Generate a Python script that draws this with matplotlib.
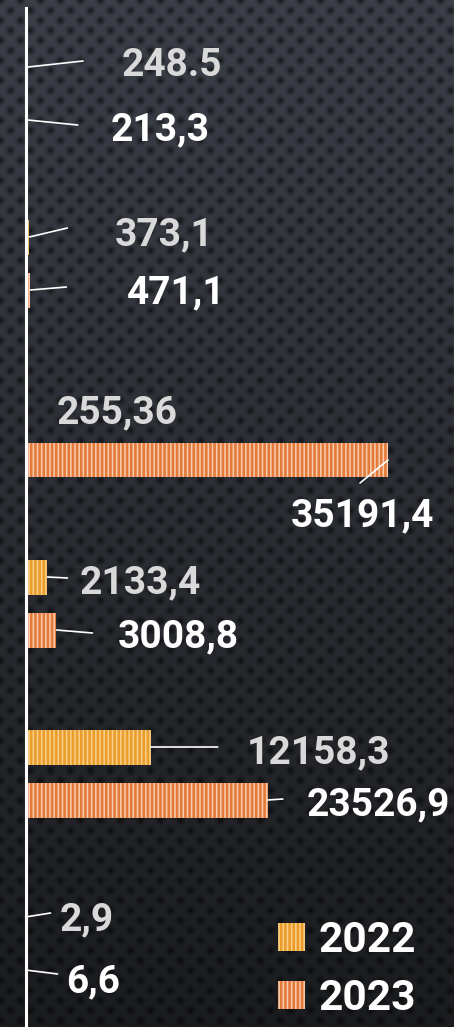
import numpy as np
import matplotlib
matplotlib.use("Agg")
import matplotlib.pyplot as plt
from matplotlib.patches import Patch

# ---- data ----
categories = ["G1", "G2", "G3", "G4", "G5", "G6"]
values_2022 = [248.5, 373.1, 255.36, 2133.4, 12158.3, 2.9]
values_2023 = [213.3, 471.1, 35191.4, 3008.8, 23526.9, 6.6]
labels_2022 = ["248.5", "373,1", "255,36", "2133,4", "12158,3", "2,9"]
labels_2023 = ["213,3", "471,1", "35191,4", "3008,8", "23526,9", "6,6"]
series_names = ["2022", "2023"]

# ---- layout (pixel offsets from bar end; image coords, y down) ----
lead_2022 = [(55, -6), (38, -9), None, (20, 1), (67, 0), (25, -4)]
lead_2023 = [(50, 5), (36, -3), (-28, 23), (36, 3), (15, -1), (32, 4)]
text_2022 = [(94, 9), (85, 8), (28, 16), (32, 16), (96, 16), (34, 13)]
text_2023 = [(83, 20), (97, 13), (-97, 66), (61, 17), (39, 15), (41, 22)]

plt.rcParams['font.family'] = ['Roboto', 'DejaVu Sans']
plt.rcParams['hatch.linewidth'] = 1.9

W, H = 454, 1027
fig = plt.figure(figsize=(W / 100, H / 100), dpi=100)

# background texture
yy, xx = np.mgrid[0:H, 0:W].astype(float)
t = yy / H
base = np.stack([0.235 - 0.13 * t, 0.25 - 0.14 * t, 0.285 - 0.165 * t], axis=-1)
per = 20.0
r1 = ((xx % per) - per / 2) ** 2 + (((yy) % per) - per / 2) ** 2
r2 = (((xx + per / 2) % per) - per / 2) ** 2 + (((yy + per / 2) % per) - per / 2) ** 2
dots = np.exp(-np.minimum(r1, r2) / 14.0)
img = base * (1 - 0.55 * dots[..., None])
bg = fig.add_axes([0, 0, 1, 1], zorder=0)
bg.imshow(np.clip(img, 0, 1), aspect='auto', interpolation='bilinear')
bg.axis('off')

ax = fig.add_axes([0, 0, 1, 1], zorder=1)
ax.patch.set_alpha(0)

px0 = 25.5
scale = (388 - px0) / 35191.4
ax.set_xlim(-px0 / scale, (W - px0) / scale)
y_first, gap, off = 67.0, 170.0, 53.0
ax.set_ylim((H - y_first) / gap, -y_first / gap)

ypos = np.arange(len(categories))
ypos23 = ypos + off / gap
bh = 35 / gap

c22_face, c22_hatch = '#f8d08a', '#eb9d2c'
c23_face, c23_hatch = '#f6cdb0', '#e47a3a'

ax.barh(ypos, values_2022, height=bh, color=c22_face, edgecolor=c22_hatch,
        linewidth=0, hatch='||||', zorder=2)
ax.barh(ypos23, values_2023, height=bh, color=c23_face, edgecolor=c23_hatch,
        linewidth=0, hatch='||||', zorder=2)

for sp in ['top', 'right', 'bottom']:
    ax.spines[sp].set_visible(False)
ax.spines['left'].set_position(('data', 0))
ax.spines['left'].set_color('white')
ax.spines['left'].set_linewidth(2.2)
ax.spines['left'].set_bounds((H - y_first) / gap, (8 - y_first) / gap)
ax.spines['left'].set_zorder(3)
ax.set_xticks([])
ax.set_yticks([])

def put(vals, ys, labels, leads, texts, color):
    for v, y, lab, ld, tx in zip(vals, ys, labels, leads, texts):
        if ld is not None:
            ax.annotate('', xy=(v, y), xytext=(ld[0], -ld[1]), textcoords='offset pixels',
                        arrowprops=dict(arrowstyle='-', color='white', lw=1.2,
                                        shrinkA=0, shrinkB=0), zorder=4)
        ax.annotate(lab, xy=(v, y), xytext=(tx[0], -tx[1]), textcoords='offset pixels',
                    ha='left', va='baseline', fontsize=28, fontweight='bold',
                    color=color, zorder=5)

put(values_2022, ypos, labels_2022, lead_2022, text_2022, '#d9d9d9')
put(values_2023, ypos23, labels_2023, lead_2023, text_2023, '#ffffff')

handles = [Patch(facecolor=c22_face, edgecolor=c22_hatch, hatch='||||', linewidth=0),
           Patch(facecolor=c23_face, edgecolor=c23_hatch, hatch='||||', linewidth=0)]
leg = ax.legend(handles, series_names, loc='upper left',
                bbox_to_anchor=(278 / W, 1 - 920 / H), frameon=False,
                prop={'family': ['Roboto', 'DejaVu Sans'], 'weight': 'bold', 'size': 30.5},
                handlelength=0.63, handleheight=0.63, handletextpad=0.33,
                labelspacing=0.4, borderpad=0, borderaxespad=0)
for txt in leg.get_texts():
    txt.set_color('white')

fig.savefig('out.png', dpi=100)
